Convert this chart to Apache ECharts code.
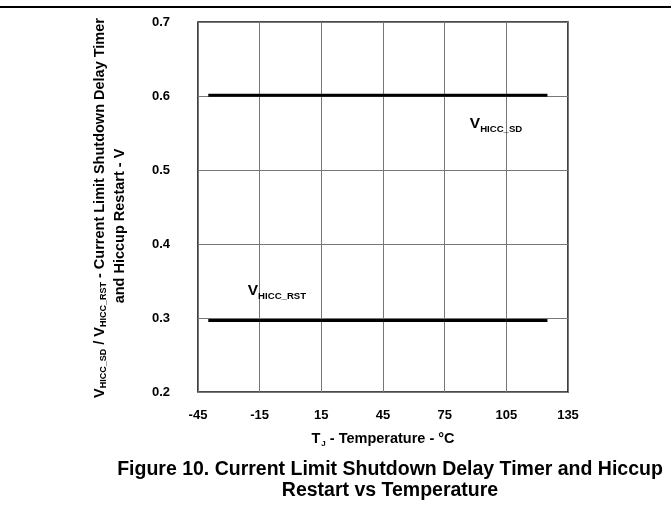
<!DOCTYPE html>
<html><head><meta charset="utf-8">
<script src="https://cdn.jsdelivr.net/npm/echarts@6/dist/echarts.min.js"></script>
<style>html,body{margin:0;padding:0;background:#fff}#c{width:671px;height:510px}</style>
</head><body><div id="c"></div>
<script>
// Data
const temps = [-40, 125];
const vHiccSd = [0.601, 0.601];
const vHiccRst = [0.2965, 0.2965];
const xTicks = [-45, -15, 15, 45, 75, 105, 135];
const yTicks = [0.2, 0.3, 0.4, 0.5, 0.6, 0.7];
const labelSd = [100, 0.561];
const labelRst = [-6.6, 0.335];

const FONT = '"Liberation Sans", Arial, sans-serif';
const subRich = {
  v: {fontFamily: FONT, fontWeight: 'bold', fontSize: 15.5, lineHeight: 18, verticalAlign: 'top', color: '#000'},
  s: {fontFamily: FONT, fontWeight: 'bold', fontSize: 9.6, lineHeight: 12, verticalAlign: 'top', padding: [8, 0, 0, 0], color: '#000'}
};
const axRich = {
  v: {fontFamily: FONT, fontWeight: 'bold', fontSize: 14.5, lineHeight: 17, verticalAlign: 'top', color: '#000'},
  s: {fontFamily: FONT, fontWeight: 'bold', fontSize: 9, lineHeight: 11, verticalAlign: 'top', padding: [7, 0, 0, 0], color: '#000'}
};

const chart = echarts.init(document.getElementById('c'), null, {renderer: 'canvas'});
const pair = (xs, ys) => xs.map((x, i) => [x, ys[i]]);
const labelSeries = (pt, txt) => ({
  type: 'scatter', symbolSize: 0, data: [pt], silent: true,
  itemStyle: {opacity: 1},
  label: {show: true, position: 'inside', fontFamily: FONT, fontWeight: 'bold', color: '#000', opacity: 1,
    formatter: txt, rich: subRich}
});
chart.setOption({
  animation: false,
  backgroundColor: '#fff',
  grid: {left: 198, right: 103, top: 22, bottom: 118, show: true, borderColor: '#111', borderWidth: 1.6, backgroundColor: 'transparent'},
  xAxis: {
    type: 'value', min: xTicks[0], max: xTicks[xTicks.length - 1], interval: 30,
    axisLine: {show: false}, axisTick: {show: false},
    splitLine: {show: true, lineStyle: {color: '#777', width: 1}},
    axisLabel: {margin: 17, fontFamily: FONT, fontWeight: 'bold', fontSize: 13, color: '#000'},
    name: '{v|T}{s|J}{v| - Temperature - °C}', nameLocation: 'middle', nameGap: 39,
    nameTextStyle: {rich: {
      v: {fontFamily: FONT, fontWeight: 'bold', fontSize: 14.5, lineHeight: 17, verticalAlign: 'top', color: '#000'},
      s: {fontFamily: FONT, fontWeight: 'bold', fontSize: 8, lineHeight: 10, verticalAlign: 'top', padding: [9, 0, 0, 1], color: '#000'}
    }}
  },
  yAxis: {
    type: 'value', min: yTicks[0], max: yTicks[yTicks.length - 1], interval: 0.1,
    axisLine: {show: false}, axisTick: {show: false},
    splitLine: {show: true, lineStyle: {color: '#777', width: 1}},
    axisLabel: {margin: 28, fontFamily: FONT, fontWeight: 'bold', fontSize: 13, color: '#000',
      formatter: v => v.toFixed(1)}
  },
  graphic: [
    {type: 'text', x: 101, y: 208, rotation: Math.PI / 2, style: {
      text: '{v|V}{s|HICC_SD}{v| / V}{s|HICC_RST}{v| - Current Limit Shutdown Delay Timer}',
      rich: axRich, align: 'center', verticalAlign: 'middle'}},
    {type: 'text', x: 120, y: 226, rotation: Math.PI / 2, style: {
      text: 'and Hiccup Restart - V', font: 'bold 14.5px ' + FONT, fill: '#000',
      align: 'center', verticalAlign: 'middle'}},
    {type: 'text', x: 390, y: 470, style: {
      text: 'Figure 10. Current Limit Shutdown Delay Timer and Hiccup', font: 'bold 19.5px ' + FONT, fill: '#000',
      align: 'center', verticalAlign: 'middle'}},
    {type: 'text', x: 390, y: 491, style: {
      text: 'Restart vs Temperature', font: 'bold 19.5px ' + FONT, fill: '#000',
      align: 'center', verticalAlign: 'middle'}},
    {type: 'rect', shape: {x: 0, y: 6, width: 671, height: 2}, style: {fill: '#000'}}
  ],
  series: [
    {type: 'line', data: pair(temps, vHiccSd), symbol: 'none', lineStyle: {color: '#000', width: 3}},
    {type: 'line', data: pair(temps, vHiccRst), symbol: 'none', lineStyle: {color: '#000', width: 3}},
    labelSeries(labelSd, '{v|V}{s|HICC_SD}'),
    labelSeries(labelRst, '{v|V}{s|HICC_RST}')
  ]
});
</script></body></html>
